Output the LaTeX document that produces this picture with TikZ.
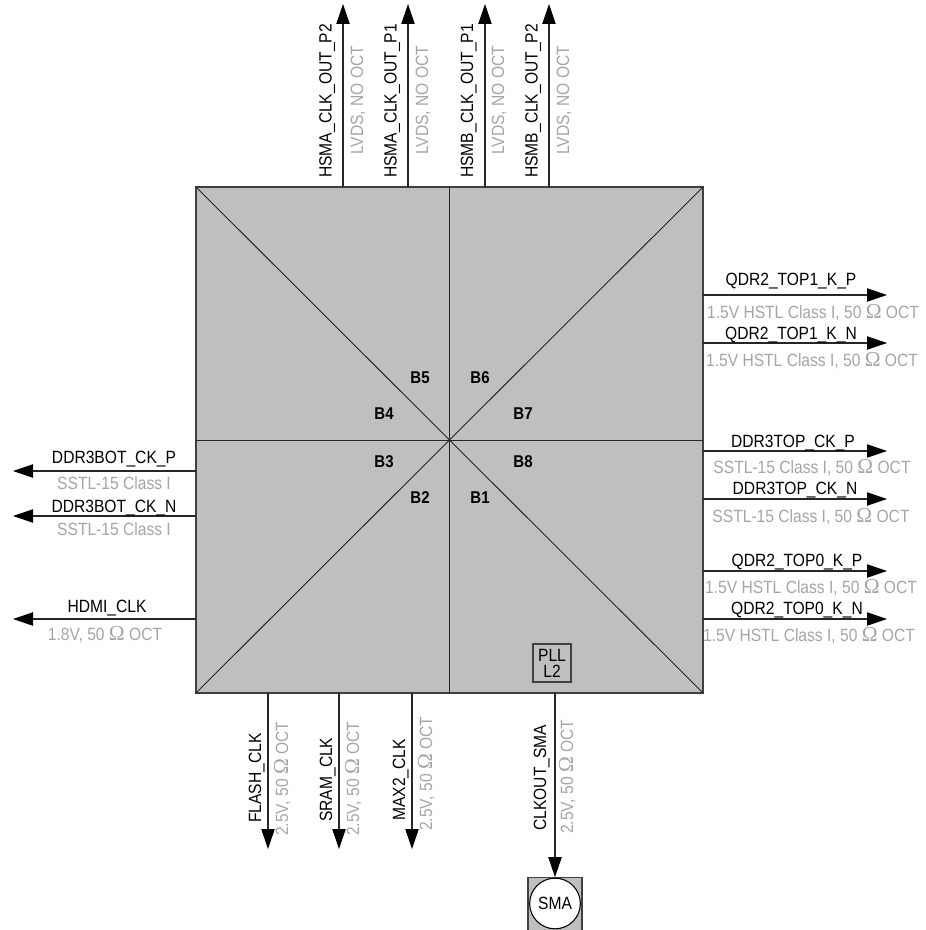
\documentclass[tikz,border=0pt]{standalone}
\usepackage{fontspec}
\setmainfont[FakeStretch=0.88]{Liberation Sans}
\newfontfamily\omegafont[Scale=1.2]{Liberation Serif}
\newcommand{\Om}{{\omegafont Ω}}
\definecolor{chipgray}{RGB}{191,191,191}
\definecolor{labelgray}{RGB}{165,165,165}
\usetikzlibrary{arrows.meta}
\tikzset{
  x=0.75pt,y=-0.75pt,
  chip/.style={draw=black!75,fill=chipgray,line width=0.8pt,minimum width=380.25pt,minimum height=379.5pt,inner sep=0pt,outer sep=0pt},
  wire/.style={line width=0.8pt,black!85,-{Triangle[length=15pt,width=10pt,black]}},
  divider/.style={line width=0.7pt,black!85},
  sig/.style={font=\fontsize{13.3}{14}\selectfont,inner sep=0pt,text=black},
  std/.style={font=\fontsize{13.3}{14}\selectfont,inner sep=0pt,text=labelgray},
  bank/.style={font=\fontsize{12.8}{14}\selectfont\bfseries,inner sep=0pt},
  upsig/.style={sig,rotate=90,anchor=base west},
  upstd/.style={std,rotate=90,anchor=base west},
}
\begin{document}
\begin{tikzpicture}
\useasboundingbox (0,0) rectangle (925,930);
\node[chip] (chip) at (449.5,440) {};
\draw[divider] (chip.north west) -- (chip.south east);
\draw[divider] (chip.north east) -- (chip.south west);
\draw[divider] (chip.north) -- (chip.south);
\draw[divider] (chip.west) -- (chip.east);
% banks
\node[bank] (b5) at (420,378) {B5};
\node[bank] (b6) at (480,378) {B6};
\node[bank] (b4) at (384,414) {B4};
\node[bank] (b7) at (523,414) {B7};
\node[bank] (b3) at (384,462) {B3};
\node[bank] (b8) at (523,462) {B8};
\node[bank] (b2) at (420,498) {B2};
\node[bank] (b1) at (480,498) {B1};
% PLL
\node[draw=black!75,line width=0.8pt,minimum width=28.5pt,minimum height=28.5pt,inner sep=0pt,align=center,font=\fontsize{13.3}{12}\selectfont] (pll) at (552,663) {PLL\\L2};
% SMA
\node[draw=black!75,fill=chipgray,line width=0.8pt,minimum width=40.5pt,minimum height=39.5pt,inner sep=0pt] (smabox) at (555,904) {};
\node[circle,draw=black,fill=white,line width=0.8pt,minimum size=38pt,inner sep=0pt,font=\fontsize{13.3}{14}\selectfont] (sma) at (555,903.5) {SMA};
% top
\coordinate (t1) at (343,4); \coordinate (t2) at (408,4); \coordinate (t3) at (485,4); \coordinate (t4) at (549,4);
\foreach \n in {t1,t2,t3,t4} \draw[wire] (\n |- chip.north) -- (\n);
\node[upsig] (l1) at (331.5,178) {HSMA\_CLK\_OUT\_P2};
\node[upstd] (g1) at (363,155) {LVDS, NO OCT};
\node[upsig] (l2) at (396.5,178) {HSMA\_CLK\_OUT\_P1};
\node[upstd] (g2) at (428,155) {LVDS, NO OCT};
\node[upsig] (l3) at (473,178) {HSMB\_CLK\_OUT\_P1};
\node[upstd] (g3) at (504,155) {LVDS, NO OCT};
\node[upsig] (l4) at (537.5,178) {HSMB\_CLK\_OUT\_P2};
\node[upstd] (g4) at (569,155) {LVDS, NO OCT};
% right
\coordinate (r1) at (887,295); \coordinate (r2) at (887,343); \coordinate (r3) at (887,451);
\coordinate (r4) at (887,499); \coordinate (r5) at (887,571); \coordinate (r6) at (887,619);
\foreach \n in {r1,r2,r3,r4,r5,r6} \draw[wire] (chip.east |- \n) -- (\n);
\node[sig,anchor=base] (l5) at (791,286) {QDR2\_TOP1\_K\_P};
\node[std,anchor=base] (g5) at (813,318) {1.5V HSTL Class I, 50 \Om{} OCT};
\node[sig,anchor=base] (l6) at (791,339) {QDR2\_TOP1\_K\_N};
\node[std,anchor=base] (g6) at (812,366) {1.5V HSTL Class I, 50 \Om{} OCT};
\node[sig,anchor=base] (l7) at (793,447) {DDR3TOP\_CK\_P};
\node[std,anchor=base] (g7) at (812,473) {SSTL-15 Class I, 50 \Om{} OCT};
\node[sig,anchor=base] (l8) at (795,494) {DDR3TOP\_CK\_N};
\node[std,anchor=base] (g8) at (811,522) {SSTL-15 Class I, 50 \Om{} OCT};
\node[sig,anchor=base] (l9) at (797,566) {QDR2\_TOP0\_K\_P};
\node[std,anchor=base] (g9) at (811,593) {1.5V HSTL Class I, 50 \Om{} OCT};
\node[sig,anchor=base] (l10) at (797,614) {QDR2\_TOP0\_K\_N};
\node[std,anchor=base] (g10) at (809,641) {1.5V HSTL Class I, 50 \Om{} OCT};
% left
\coordinate (w1) at (13,471); \coordinate (w2) at (13,516); \coordinate (w3) at (13,619);
\foreach \n in {w1,w2,w3} \draw[wire] (chip.west |- \n) -- (\n);
\node[sig,anchor=base] (l11) at (114,463) {DDR3BOT\_CK\_P};
\node[std,anchor=base] (g11) at (114,489) {SSTL-15 Class I};
\node[sig,anchor=base] (l12) at (114,512) {DDR3BOT\_CK\_N};
\node[std,anchor=base] (g12) at (114,535) {SSTL-15 Class I};
\node[sig,anchor=base] (l13) at (107,612) {HDMI\_CLK};
\node[std,anchor=base] (g13) at (105,640) {1.8V, 50 \Om{} OCT};
% bottom
\coordinate (d1) at (268,849); \coordinate (d2) at (339,849); \coordinate (d3) at (412,849);
\foreach \n in {d1,d2,d3} \draw[wire] (\n |- chip.south) -- (\n);
\draw[wire] (smabox.north |- chip.south) -- (smabox.north);
\node[upsig] (l14) at (261,823) {FLASH\_CLK};
\node[upstd] (g14) at (288,836) {2.5V, 50 \Om{} OCT};
\node[upsig] (l15) at (332,822) {SRAM\_CLK};
\node[upstd] (g15) at (359,836) {2.5V, 50 \Om{} OCT};
\node[upsig] (l16) at (405,821) {MAX2\_CLK};
\node[upstd] (g16) at (432,831) {2.5V, 50 \Om{} OCT};
\node[upsig] (l17) at (546,831) {CLKOUT\_SMA};
\node[upstd] (g17) at (573,834) {2.5V, 50 \Om{} OCT};
\end{tikzpicture}
\end{document}
